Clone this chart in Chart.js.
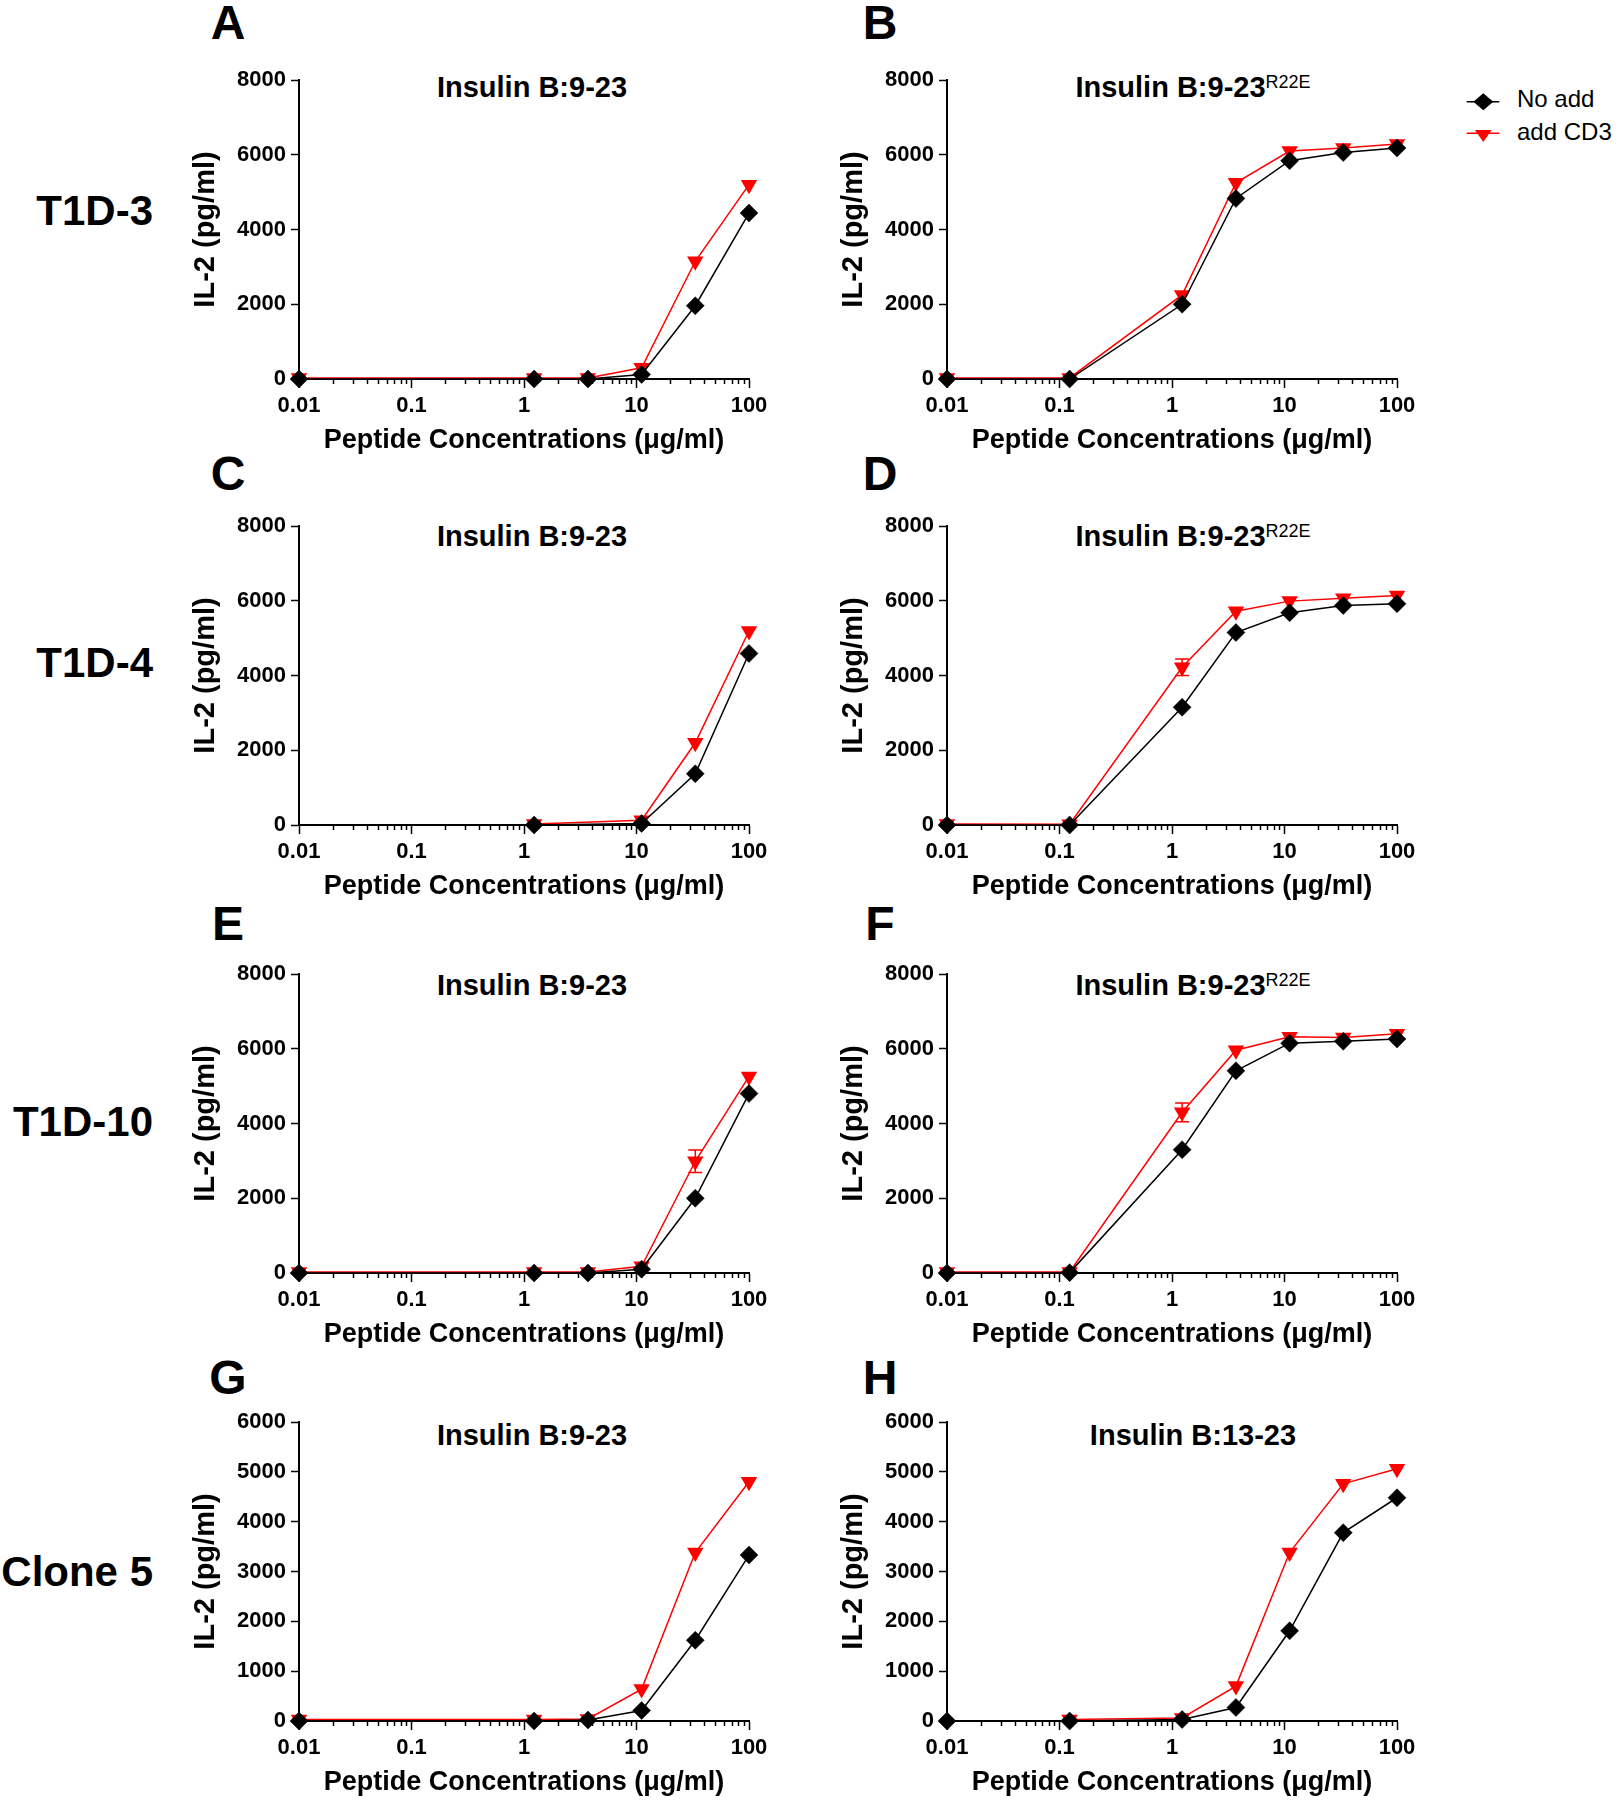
<!DOCTYPE html>
<html><head><meta charset="utf-8">
<script src="https://cdn.jsdelivr.net/npm/chart.js@4.4.0/dist/chart.umd.min.js"></script>
<style>
html,body{margin:0;padding:0;background:#fff;}
body{width:1619px;height:1800px;position:relative;overflow:hidden;font-family:"Liberation Sans",Arial,sans-serif;color:#000;}
canvas{position:absolute;}
.lbl{position:absolute;white-space:nowrap;line-height:1;}
.letter{font-size:48px;font-weight:bold;transform:translateX(-50%);}
.row{font-size:42px;font-weight:bold;transform:translateX(-100%);}
.ttl{font-size:29px;font-weight:bold;transform:translateX(-50%);}
.ttl sup{font-size:18px;font-weight:normal;vertical-align:9px;line-height:0;}
.leg{font-size:24px;}
svg{position:absolute;}
</style></head><body>

<div class="lbl letter" style="left:228px;top:-1px">A</div>
<div class="lbl letter" style="left:880px;top:-1px">B</div>
<div class="lbl letter" style="left:228px;top:450px">C</div>
<div class="lbl letter" style="left:880px;top:450px">D</div>
<div class="lbl letter" style="left:228px;top:900px">E</div>
<div class="lbl letter" style="left:880px;top:900px">F</div>
<div class="lbl letter" style="left:228px;top:1354px">G</div>
<div class="lbl letter" style="left:880px;top:1354px">H</div>

<div class="lbl row" style="left:153px;top:190px">T1D-3</div>
<div class="lbl row" style="left:153px;top:642px">T1D-4</div>
<div class="lbl row" style="left:153px;top:1101px">T1D-10</div>
<div class="lbl row" style="left:153px;top:1551px">Clone 5</div>

<div class="lbl ttl" style="left:532px;top:73px">Insulin B:9-23</div>
<div class="lbl ttl" style="left:1193px;top:73px">Insulin B:9-23<sup>R22E</sup></div>
<div class="lbl ttl" style="left:532px;top:522px">Insulin B:9-23</div>
<div class="lbl ttl" style="left:1193px;top:522px">Insulin B:9-23<sup>R22E</sup></div>
<div class="lbl ttl" style="left:532px;top:971px">Insulin B:9-23</div>
<div class="lbl ttl" style="left:1193px;top:971px">Insulin B:9-23<sup>R22E</sup></div>
<div class="lbl ttl" style="left:532px;top:1421px">Insulin B:9-23</div>
<div class="lbl ttl" style="left:1193px;top:1421px">Insulin B:13-23</div>

<svg style="left:1460px;top:85px" width="50" height="66">
  <line x1="6.7" y1="16.7" x2="39.3" y2="16.7" stroke="#000" stroke-width="1.5"/>
  <polygon points="23.3,8.2 33.3,16.7 23.3,25.2 13.3,16.7" fill="#000"/>
  <line x1="6.7" y1="48.3" x2="39.3" y2="48.3" stroke="#ff0000" stroke-width="1.5"/>
  <polygon points="14.9,45 31.7,45 23.3,57" fill="#ff0000"/>
</svg>
<div class="lbl leg" style="left:1517px;top:87px">No add</div>
<div class="lbl leg" style="left:1517px;top:120px">add CD3</div>

<canvas id="cA" width="620" height="409" style="left:159px;top:50px"></canvas>
<canvas id="cB" width="620" height="409" style="left:807px;top:50px"></canvas>
<canvas id="cC" width="620" height="409" style="left:159px;top:496px"></canvas>
<canvas id="cD" width="620" height="409" style="left:807px;top:496px"></canvas>
<canvas id="cE" width="620" height="409" style="left:159px;top:944px"></canvas>
<canvas id="cF" width="620" height="409" style="left:807px;top:944px"></canvas>
<canvas id="cG" width="620" height="409" style="left:159px;top:1392px"></canvas>
<canvas id="cH" width="620" height="409" style="left:807px;top:1392px"></canvas>

<script>
// ---- tick labels ----
const xMajorTicks = [0.01, 0.1, 1, 10, 100];
const xTickLabels = ['0.01', '0.1', '1', '10', '100'];
const yMaxRows1to3 = 8000, yStepRows1to3 = 2000;
const yMaxRow4 = 6000, yStepRow4 = 1000;

// ---- concentrations (ug/ml) ----
const concA = [0.01, 1.23, 3.7, 11.1, 33.3, 100];
const concB = [0.01, 0.123, 1.23, 3.7, 11.1, 33.3, 100];
const concC = [1.23, 11.1, 33.3, 100];
const concD = [0.01, 0.123, 1.23, 3.7, 11.1, 33.3, 100];
const concE = [0.01, 1.23, 3.7, 11.1, 33.3, 100];
const concF = [0.01, 0.123, 1.23, 3.7, 11.1, 33.3, 100];
const concG = [0.01, 1.23, 3.7, 11.1, 33.3, 100];
const concH = [0.01, 0.123, 1.23, 3.7, 11.1, 33.3, 100];

// ---- IL-2 (pg/ml): No add ----
const noAddA = [0, 0, 0, 120, 1960, 4440];
const noAddB = [0, 0, 2000, 4830, 5840, 6060, 6180];
const noAddC = [0, 40, 1370, 4590];
const noAddD = [0, 0, 3150, 5150, 5680, 5870, 5920];
const noAddE = [0, 0, 0, 100, 2000, 4800];
const noAddF = [0, 10, 3300, 5410, 6150, 6200, 6260];
const noAddG = [0, 0, 20, 210, 1620, 3330];
const noAddH = [0, 0, 30, 270, 1810, 3780, 4480];

// ---- IL-2 (pg/ml): add CD3 ----
const cd3A = [30, 30, 30, 300, 3150, 5200];
const cd3B = [30, 30, 2250, 5250, 6100, 6180, 6290];
const cd3C = [30, 130, 2200, 5190];
const cd3D = [30, 20, 4220, 5720, 5990, 6070, 6140];
const cd3E = [30, 30, 30, 180, 2990, 5260];
const cd3F = [30, 30, 4300, 5960, 6320, 6300, 6400];
const cd3G = [30, 30, 40, 640, 3380, 4800];
const cd3H = [null, 30, 60, 700, 3380, 4760, 5060];

// ---- error bars (SEM) for add CD3 ----
const cd3ErrD = [0, 0, 220, 0, 0, 0, 0];
const cd3ErrE = [0, 0, 0, 0, 300, 0];
const cd3ErrF = [0, 0, 250, 0, 0, 0, 0];

const FONT = '"Liberation Sans", Arial, sans-serif';

function isMajor(v) {
  return xMajorTicks.some(m => Math.abs(Math.log10(m) - Math.log10(v)) < 1e-6);
}
function allXTicks() {
  const out = [];
  for (let i = 0; i < xMajorTicks.length; i++) {
    const base = xMajorTicks[i];
    out.push(base);
    if (i < xMajorTicks.length - 1) {
      for (let m = 2; m <= 9; m++) out.push(parseFloat((m * base).toPrecision(3)));
    }
  }
  return out;
}

const minorTickPlugin = {
  id: 'minorTicks',
  afterDraw(chart) {
    const sc = chart.scales.x, ctx = chart.ctx, b = chart.chartArea.bottom;
    ctx.save();
    ctx.strokeStyle = '#000';
    ctx.lineWidth = 1.5;
    sc.ticks.forEach(t => {
      if (isMajor(t.value)) return;
      const px = Math.round(sc.getPixelForValue(t.value)) + 0.5;
      ctx.beginPath();
      ctx.moveTo(px, b);
      ctx.lineTo(px, b + 5);
      ctx.stroke();
    });
    ctx.restore();
  }
};

const errorBarPlugin = {
  id: 'errorBars',
  beforeDatasetsDraw(chart) {
    const ctx = chart.ctx, xs = chart.scales.x, ys = chart.scales.y;
    chart.data.datasets.forEach(ds => {
      if (!ds.errorBars) return;
      ctx.save();
      ctx.strokeStyle = ds.borderColor;
      ctx.lineWidth = 1.5;
      ds.data.forEach((p, i) => {
        const e = ds.errorBars[i];
        if (!e || p.y == null) return;
        const px = xs.getPixelForValue(p.x);
        const y1 = ys.getPixelForValue(p.y - e), y2 = ys.getPixelForValue(p.y + e);
        ctx.beginPath();
        ctx.moveTo(px, y1); ctx.lineTo(px, y2);
        ctx.moveTo(px - 7, y1); ctx.lineTo(px + 7, y1);
        ctx.moveTo(px - 7, y2); ctx.lineTo(px + 7, y2);
        ctx.stroke();
      });
      ctx.restore();
    });
  }
};

function pts(xs, ys) {
  return xs.map((x, i) => ({ x: x, y: ys[i] }));
}

function makePanel(id, conc, noAdd, cd3, cd3Err, yMax, yStep) {
  new Chart(document.getElementById(id), {
    type: 'line',
    data: {
      datasets: [
        {
          label: 'No add',
          data: pts(conc, noAdd),
          borderColor: '#000000',
          backgroundColor: '#000000',
          borderWidth: 1.5,
          pointStyle: 'rectRot',
          pointRadius: 9,
          pointBorderWidth: 0.5,
          pointBackgroundColor: '#000000',
          pointBorderColor: '#000000',
          tension: 0,
          clip: false
        },
        {
          label: 'add CD3',
          data: pts(conc, cd3),
          errorBars: cd3Err || null,
          borderColor: '#ff0000',
          backgroundColor: '#ff0000',
          borderWidth: 1.5,
          pointStyle: 'triangle',
          pointRotation: 180,
          pointRadius: 9.5,
          pointBorderWidth: 0,
          pointBackgroundColor: '#ff0000',
          pointBorderColor: '#ff0000',
          tension: 0,
          clip: false
        }
      ]
    },
    options: {
      responsive: false,
      animation: false,
      devicePixelRatio: 1,
      events: [],
      layout: { padding: { top: 30, right: 30, left: 0, bottom: 0 } },
      plugins: { legend: { display: false }, tooltip: { enabled: false } },
      scales: {
        x: {
          type: 'logarithmic',
          min: 0.01,
          max: 100,
          afterBuildTicks: (scale) => { scale.ticks = allXTicks().map(v => ({ value: v, major: isMajor(v) })); },
          afterFit: (scale) => { scale.height = 80; },
          border: { display: true, color: '#000', width: 2 },
          grid: {
            drawOnChartArea: false,
            drawTicks: true,
            tickLength: 9,
            tickWidth: 1.5,
            tickColor: (c) => (c.tick && isMajor(c.tick.value)) ? '#000' : 'rgba(0,0,0,0)'
          },
          ticks: {
            autoSkip: false,
            maxRotation: 0,
            minRotation: 0,
            padding: 5,
            color: '#000',
            font: { family: FONT, size: 22, weight: 'bold' },
            callback: function (value) {
              const i = xMajorTicks.findIndex(m => Math.abs(Math.log10(m) - Math.log10(value)) < 1e-6);
              return i >= 0 ? xTickLabels[i] : '';
            }
          },
          title: {
            display: true,
            text: 'Peptide Concentrations (μg/ml)',
            color: '#000',
            font: { family: FONT, size: 27, weight: 'bold' },
            padding: { top: 0, bottom: 2 }
          }
        },
        y: {
          type: 'linear',
          min: 0,
          max: yMax,
          afterFit: (scale) => { scale.width = 140; },
          border: { display: true, color: '#000', width: 2 },
          grid: { drawOnChartArea: false, drawTicks: true, tickLength: 8, tickWidth: 1.5, tickColor: '#000' },
          ticks: {
            stepSize: yStep,
            padding: 5,
            color: '#000',
            font: { family: FONT, size: 22, weight: 'bold' },
            callback: (v) => String(v)
          },
          title: {
            display: true,
            text: 'IL-2 (pg/ml)',
            color: '#000',
            font: { family: FONT, size: 29, weight: 'bold' },
            padding: { top: 30, bottom: 0 }
          }
        }
      }
    },
    plugins: [minorTickPlugin, errorBarPlugin]
  });
}

makePanel('cA', concA, noAddA, cd3A, null, yMaxRows1to3, yStepRows1to3);
makePanel('cB', concB, noAddB, cd3B, null, yMaxRows1to3, yStepRows1to3);
makePanel('cC', concC, noAddC, cd3C, null, yMaxRows1to3, yStepRows1to3);
makePanel('cD', concD, noAddD, cd3D, cd3ErrD, yMaxRows1to3, yStepRows1to3);
makePanel('cE', concE, noAddE, cd3E, cd3ErrE, yMaxRows1to3, yStepRows1to3);
makePanel('cF', concF, noAddF, cd3F, cd3ErrF, yMaxRows1to3, yStepRows1to3);
makePanel('cG', concG, noAddG, cd3G, null, yMaxRow4, yStepRow4);
makePanel('cH', concH, noAddH, cd3H, null, yMaxRow4, yStepRow4);
</script>
</body></html>
